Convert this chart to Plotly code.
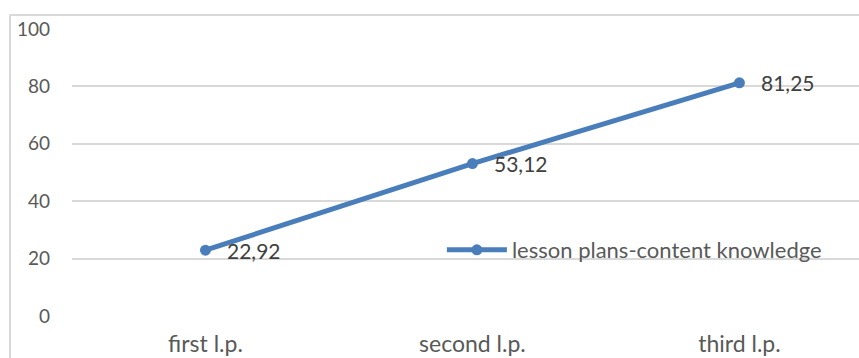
import plotly.graph_objects as go

categories = ["first l.p.", "second l.p.", "third l.p."]
values = [22.92, 53.12, 81.25]
series_name = "lesson plans-content knowledge"
y_ticks = [0, 20, 40, 60, 80, 100]

W, H = 859, 358
L, T, B = 72, 29, 42
FONT = "Lato"
TXT = "#595959"
BLUE = "#4A7EBB"
GRID = "#D9D9D9"

fig = go.Figure()
fig.add_trace(go.Scatter(
    x=categories, y=values, name=series_name,
    mode="lines+markers",
    line=dict(color=BLUE, width=5),
    marker=dict(color=BLUE, size=11),
    cliponaxis=False,
))

for c, v in zip(categories, values):
    fig.add_annotation(
        x=c, y=v, xref="x", yref="y",
        text=f"{v:.2f}".replace(".", ","),
        showarrow=False, xanchor="left", yanchor="middle",
        xshift=20, yshift=0,
        font=dict(family=FONT, size=21, color="#404040"),
    )

fig.update_layout(
    width=W, height=H,
    margin=dict(l=L, r=0, t=T, b=B, pad=0),
    paper_bgcolor="white", plot_bgcolor="white",
    font=dict(family=FONT, size=21, color=TXT),
    showlegend=True,
    legend=dict(x=0.47, y=0.23, xanchor="left", yanchor="middle",
                bgcolor="rgba(0,0,0,0)", itemwidth=60,
                font=dict(family=FONT, size=22, color=TXT)),
    xaxis=dict(type="category", range=[-0.5, 2.448], showgrid=False,
               zeroline=False, showline=False, ticks="",
               ticklabelstandoff=12, tickfont=dict(size=23, color=TXT)),
    yaxis=dict(range=[0, 100], tickvals=y_ticks, showgrid=True,
               gridcolor=GRID, gridwidth=1.5, zeroline=False, showline=False,
               ticks="", ticklabelstandoff=21, tickfont=dict(size=19, color=TXT)),
    shapes=[
        dict(type="line", xref="paper", yref="paper",
             x0=(9.5 - L) / (W - L), x1=1.05,
             y0=1 + (T - 15) / (H - T - B), y1=1 + (T - 15) / (H - T - B),
             line=dict(color=GRID, width=2)),
        dict(type="line", xref="paper", yref="paper",
             x0=(10 - L) / (W - L), x1=(10 - L) / (W - L),
             y0=-0.5, y1=1 + (T - 15) / (H - T - B),
             line=dict(color=GRID, width=2)),
    ],
)

fig.write_html("out.html")
